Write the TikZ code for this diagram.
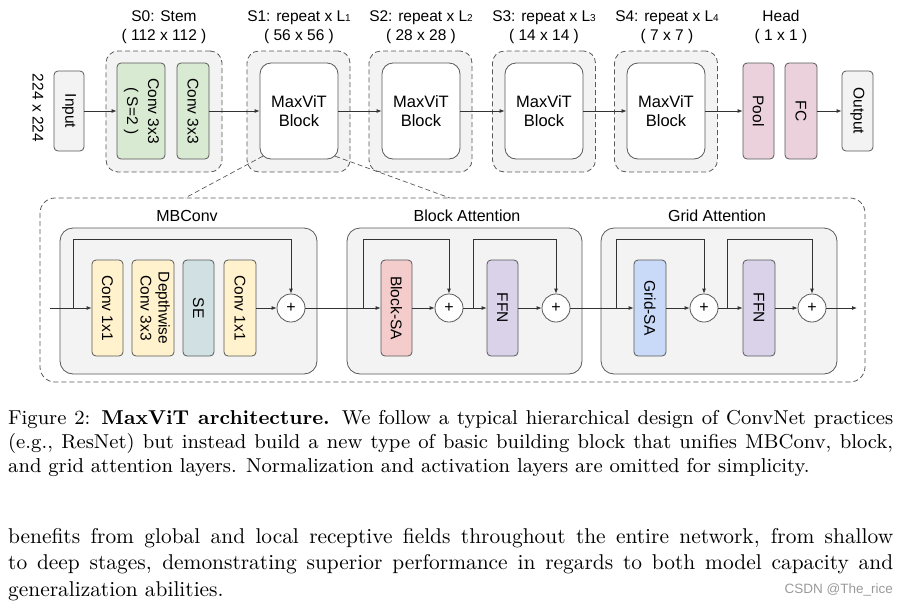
\documentclass[tikz,border=0pt]{standalone}
\usepackage{fontspec}
\usepackage{graphicx}
\usetikzlibrary{arrows.meta,calc}
\newfontfamily\dsans{Liberation Sans}
\newfontfamily\capfont{lmroman9-regular}[Extension=.otf, BoldFont=lmroman9-bold]
\newfontfamily\parfont{lmroman10-regular}[Extension=.otf, BoldFont=lmroman10-bold]
\definecolor{gfill}{HTML}{F3F3F3}
\definecolor{bord}{HTML}{595959}
\definecolor{lc}{HTML}{333333}
\definecolor{cgreen}{HTML}{D9EAD3}
\definecolor{cpink}{HTML}{EAD1DC}
\definecolor{cyellow}{HTML}{FFF2CC}
\definecolor{cse}{HTML}{D0E0E3}
\definecolor{cred}{HTML}{F4CCCC}
\definecolor{cpurple}{HTML}{D9D2E9}
\definecolor{cblue}{HTML}{C9DAF8}
\definecolor{wm}{HTML}{9A9A9A}
\newcommand{\rot}[1]{\rotatebox{-90}{#1}}
\newcommand{\rottwo}[3][1pt]{\rotatebox{-90}{\begin{tabular}{@{}c@{}}#2\\[#1]#3\end{tabular}}}
\newcommand{\Lsub}[1]{L{\fontsize{10}{10}\selectfont #1}}
\tikzset{
  box/.style={draw=bord, line width=0.8pt, rounded corners=4pt, inner sep=0pt,
    font=\dsans\fontsize{15.5}{17}\selectfont},
  stagebox/.style={draw=bord, dash pattern=on 5pt off 3pt, fill=gfill, rounded corners=12pt,
    line width=0.8pt, inner sep=0pt, minimum width=103pt, minimum height=121pt},
  blk/.style={box, fill=white, rounded corners=11pt, minimum width=78pt, minimum height=96pt,
    font=\dsans\fontsize{16.5}{19.5}\selectfont},
  groupbox/.style={draw=bord, fill=gfill, rounded corners=13pt, line width=0.8pt},
  lbl/.style={font=\dsans\fontsize{15.5}{17}\selectfont, anchor=base, inner sep=0pt},
  arr/.style={-{Latex[length=5pt,width=4pt]}, line width=0.8pt, draw=lc},
  plus/.style={circle, draw=bord, fill=white, minimum size=28pt, inner sep=0pt, line width=0.8pt,
    font=\dsans\fontsize{16}{17}\selectfont},
  zoomline/.style={draw=bord, line width=0.7pt, dash pattern=on 5pt off 3pt},
  captxt/.style={anchor=base west, inner sep=0pt, font=\capfont\fontsize{20.1}{24}\selectfont},
  partxt/.style={anchor=base west, inner sep=0pt, font=\parfont\fontsize{21.4}{26}\selectfont}
}
\begin{document}
\begin{tikzpicture}[x=1pt,y=-1pt]
\useasboundingbox (0,0) rectangle (900,606);

% ---------- top row ----------
\node[inner sep=0pt, font=\dsans\fontsize{15.5}{17}\selectfont] (res) at (38,108) {\rot{224 x 224}};
\node[box, fill=gfill, minimum width=30pt, minimum height=80pt] (input) at (69,111) {\rot{Input}};

\node[stagebox, minimum width=116pt] (stem) at (164,111.5) {};
\node[box, fill=cgreen, minimum width=48pt, minimum height=96pt] (conv1) at (141,111) {\rottwo[4pt]{Conv 3x3}{( S=2 )}};
\node[box, fill=cgreen, minimum width=32pt, minimum height=96pt] (conv2) at (193,111) {\rot{Conv 3x3}};

\node[stagebox] (s1) at (298.5,111.5) {};
\node[stagebox] (s2) at (420.5,111.5) {};
\node[stagebox] (s3) at (544,111.5) {};
\node[stagebox] (s4) at (666,111.5) {};
\node[blk, align=center] (b1) at (299,111) {MaxViT\\Block};
\node[blk, align=center] (b2) at (421,111) {MaxViT\\Block};
\node[blk, align=center] (b3) at (544,111) {MaxViT\\Block};
\node[blk, align=center] (b4) at (666,111) {MaxViT\\Block};

\node[box, fill=cpink, minimum width=31pt, minimum height=96pt] (pool) at (758.5,111) {\rot{Pool}};
\node[box, fill=cpink, minimum width=32pt, minimum height=96pt] (fc) at (801,111) {\rot{FC}};
\node[box, fill=gfill, minimum width=31pt, minimum height=80pt] (output) at (857.5,111) {\rot{Output}};

% stage labels
\node[lbl] (t0a) at (164,21) {S0: Stem};
\node[lbl] (t0b) at (164,40) {( 112 x 112 )};
\node[lbl] (t1a) at (299,21) {S1: repeat x \Lsub{1}};
\node[lbl] (t1b) at (299,40) {( 56 x 56 )};
\node[lbl] (t2a) at (421,21) {S2: repeat x \Lsub{2}};
\node[lbl] (t2b) at (421,40) {( 28 x 28 )};
\node[lbl] (t3a) at (544,21) {S3: repeat x \Lsub{3}};
\node[lbl] (t3b) at (544,40) {( 14 x 14 )};
\node[lbl] (t4a) at (667,21) {S4: repeat x \Lsub{4}};
\node[lbl] (t4b) at (667,40) {( 7 x 7 )};
\node[lbl] (tha) at (781,21) {Head};
\node[lbl] (thb) at (781,40) {( 1 x 1 )};

% top arrows
\draw[arr] (input.east) -- (conv1.west);
\draw[arr] (conv2.east) -- (b1.west);
\draw[arr] (b1.east) -- (b2.west);
\draw[arr] (b2.east) -- (b3.west);
\draw[arr] (b3.east) -- (b4.west);
\draw[arr] (b4.east) -- (pool.west);
\draw[arr] (fc.east) -- (output.west);

% ---------- detail ----------
\draw[draw=bord, line width=0.8pt, dash pattern=on 5pt off 3pt, rounded corners=15pt] (40,198) rectangle (865,382);
\coordinate (zl) at (185,198);
\coordinate (zr) at (450,198);
\coordinate (cl) at ($(b1.south west)+(3.2,-3.2)$);
\coordinate (cr) at ($(b1.south east)+(-3.2,-3.2)$);
\draw[zoomline] (cl) -- (zl);
\draw[zoomline] (cr) -- (zr);

\node[groupbox, minimum width=257pt, minimum height=146pt, inner sep=0pt] (gM) at (188.5,301) {};
\node[groupbox, minimum width=235pt, minimum height=146pt, inner sep=0pt] (gB) at (464.5,301) {};
\node[groupbox, minimum width=236pt, minimum height=146pt, inner sep=0pt] (gG) at (719,301) {};
\node[lbl, font=\dsans\fontsize{16}{17}\selectfont] (tM) at (187,221) {MBConv};
\node[lbl, font=\dsans\fontsize{16}{17}\selectfont] (tB) at (467,221) {Block Attention};
\node[lbl, font=\dsans\fontsize{16}{17}\selectfont] (tG) at (717,221) {Grid Attention};

% MBConv
\node[box, fill=cyellow, minimum width=31pt, minimum height=96pt] (c11) at (107.5,308) {\rot{Conv 1x1}};
\node[box, fill=cyellow, minimum width=42pt, minimum height=96pt] (dw) at (153,308) {\rottwo{Depthwise}{Conv 3x3}};
\node[box, fill=cse, minimum width=31pt, minimum height=96pt] (se) at (198.5,308) {\rot{SE}};
\node[box, fill=cyellow, minimum width=32pt, minimum height=96pt] (c12) at (240,308) {\rot{Conv 1x1}};
\node[plus] (p1) at (291,308) {+};
\coordinate (in0) at (50,308);
\coordinate (bM) at (73,308);
\draw[arr] (in0) -- (c11.west);
\draw[arr] (bM) -- ++(0,-69) -| (p1.north);
\draw[arr] (c12.east) -- (p1.west);

% Block attention
\node[box, fill=cred, minimum width=31pt, minimum height=96pt] (bsa) at (396.5,308) {\rot{Block-SA}};
\node[plus] (p2) at (449,308) {+};
\node[box, fill=cpurple, minimum width=31pt, minimum height=96pt] (ffn1) at (502.5,308) {\rot{FFN}};
\node[plus] (p3) at (556,308) {+};
\coordinate (bB1) at (363,308);
\coordinate (bB2) at (473,308);
\draw[arr] (p1.east) -- (bsa.west);
\draw[arr] (bB1) -- ++(0,-69) -| (p2.north);
\draw[arr] (bsa.east) -- (p2.west);
\draw[arr] (p2.east) -- (ffn1.west);
\draw[arr] (bB2) -- ++(0,-69) -| (p3.north);
\draw[arr] (ffn1.east) -- (p3.west);

% Grid attention
\node[box, fill=cblue, minimum width=32pt, minimum height=96pt] (gsa) at (650,308) {\rot{Grid-SA}};
\node[plus] (p4) at (704,308) {+};
\node[box, fill=cpurple, minimum width=32pt, minimum height=96pt] (ffn2) at (759,308) {\rot{FFN}};
\node[plus] (p5) at (812,308) {+};
\coordinate (bG1) at (616,308);
\coordinate (bG2) at (727,308);
\coordinate (out0) at (857,308);
\draw[arr] (p3.east) -- (gsa.west);
\draw[arr] (bG1) -- ++(0,-69) -| (p4.north);
\draw[arr] (gsa.east) -- (p4.west);
\draw[arr] (p4.east) -- (ffn2.west);
\draw[arr] (bG2) -- ++(0,-69) -| (p5.north);
\draw[arr] (ffn2.east) -- (p5.west);
\draw[arr] (p5.east) -- (out0);

% ---------- caption ----------
\node[captxt] (cap1) at (8,424) {\makebox[885pt][s]{Figure 2: \textbf{MaxViT architecture.} We follow a typical hierarchical design of ConvNet practices}};
\node[captxt] (cap2) at (8,448) {\makebox[885pt][s]{(e.g., ResNet) but instead build a new type of basic building block that unifies MBConv, block,}};
\node[captxt] (cap3) at (8,472) {and grid attention layers. Normalization and activation layers are omitted for simplicity.};

\node[partxt] (par1) at (8,543) {\makebox[885pt][s]{benefits from global and local receptive fields throughout the entire network, from shallow}};
\node[partxt] (par2) at (8,569.5) {\makebox[885pt][s]{to deep stages, demonstrating superior performance in regards to both model capacity and}};
\node[partxt] (par3) at (8,596) {generalization abilities.};
\node[anchor=base east, inner sep=0pt, text=wm, font=\dsans\fontsize{13.5}{14}\selectfont] (wmk) at (893,593) {CSDN @The\_rice};
\end{tikzpicture}
\end{document}
